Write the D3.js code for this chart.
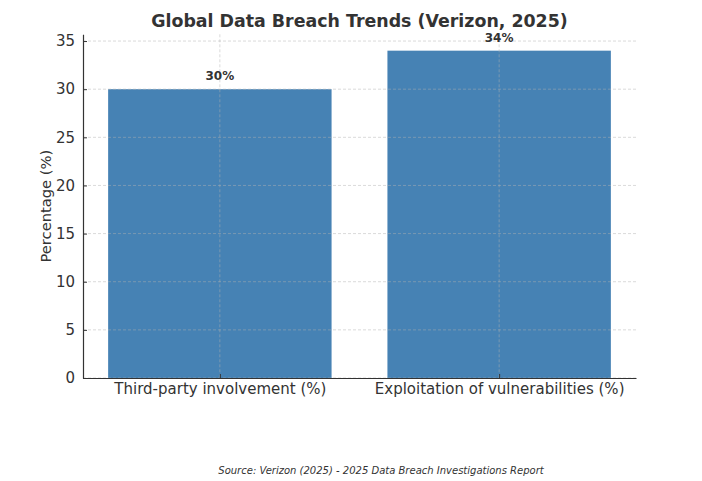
<!DOCTYPE html>
<html>
<head>
<meta charset="utf-8">
<script src="https://cdn.jsdelivr.net/npm/d3@7"></script>
<style>
  body { margin: 0; background: #fff; }
  text { font-family: 'DejaVu Sans', sans-serif; fill: #333; }
</style>
</head>
<body>
<div id="chart"></div>
<script>
let categories = ['Third-party involvement (%)', 'Exploitation of vulnerabilities (%)']
let values = [30, 34]
let yTicks = [0, 5, 10, 15, 20, 25, 30, 35]

let margin = { top: 34.3, left: 83, right: 66, bottom: 103 }
let width = 702 - margin.left - margin.right
let height = 481 - margin.top - margin.bottom

let svg = d3.select('#chart')
  .append('svg')
  .attr('width', 702)
  .attr('height', 481)

let holder = svg.append('g')
  .attr('transform', `translate(${margin.left},${margin.top})`)

// matplotlib-style bar positions: x = index, width 0.8, 5% margins
let xScale = d3.scaleLinear().domain([-0.49, 1.49]).range([0, width])
let yScale = d3.scaleLinear().domain([0, 35.7]).range([height, 0])

holder.selectAll('.bar')
  .data(values)
  .enter()
  .append('rect')
  .attr('class', 'bar')
  .attr('x', (d, i) => xScale(i - 0.4))
  .attr('width', xScale(0.8) - xScale(0))
  .attr('y', d => yScale(d))
  .attr('height', d => height - yScale(d))
  .attr('fill', '#4682b4')

// grid on top of bars
holder.selectAll('.grid-y')
  .data(yTicks)
  .enter()
  .append('line')
  .attr('x1', 0)
  .attr('x2', width)
  .attr('y1', d => yScale(d))
  .attr('y2', d => yScale(d))
  .attr('stroke', '#b0b0b0')
  .attr('stroke-opacity', 0.6)
  .attr('stroke-dasharray', '3,2')
  .attr('stroke-width', 0.8)

holder.selectAll('.grid-x')
  .data(categories)
  .enter()
  .append('line')
  .attr('x1', (d, i) => xScale(i))
  .attr('x2', (d, i) => xScale(i))
  .attr('y1', 0)
  .attr('y2', height)
  .attr('stroke', '#b0b0b0')
  .attr('stroke-opacity', 0.6)
  .attr('stroke-dasharray', '3,2')
  .attr('stroke-width', 0.8)

// y axis
let yAxis = holder.append('g')
  .call(d3.axisLeft(yScale).tickValues(yTicks).tickSizeInner(-4).tickSizeOuter(0).tickPadding(8))
yAxis.select('.domain').attr('stroke', '#333').attr('stroke-width', 1.2)
yAxis.selectAll('.tick line').attr('stroke', '#333')
yAxis.selectAll('.tick text').attr('font-size', 15).attr('fill', '#333')

// x axis
let xAxis = holder.append('g')
  .attr('transform', `translate(0,${height})`)
  .call(d3.axisBottom(xScale).tickValues([0, 1]).tickFormat(i => categories[i]).tickSizeInner(-4).tickSizeOuter(0).tickPadding(5))
xAxis.select('.domain').attr('stroke', '#333').attr('stroke-width', 1.2)
xAxis.selectAll('.tick line').attr('stroke', '#333')
xAxis.selectAll('.tick text').attr('font-size', 15).attr('fill', '#333')

// value labels
holder.selectAll('.value-label')
  .data(values)
  .enter()
  .append('text')
  .attr('x', (d, i) => xScale(i))
  .attr('y', d => yScale(d) - 9)
  .attr('text-anchor', 'middle')
  .attr('font-size', 12)
  .attr('font-weight', 'bold')
  .text(d => d + '%')

// y label
holder.append('text')
  .attr('transform', `translate(-32,${height / 2}) rotate(-90)`)
  .attr('text-anchor', 'middle')
  .attr('font-size', 14.7)
  .text('Percentage (%)')

// title
svg.append('text')
  .attr('x', margin.left + width / 2)
  .attr('y', 27)
  .attr('text-anchor', 'middle')
  .attr('font-size', 17.4)
  .attr('font-weight', 'bold')
  .text('Global Data Breach Trends (Verizon, 2025)')

// source
svg.append('text')
  .attr('x', 381)
  .attr('y', 474)
  .attr('text-anchor', 'middle')
  .attr('font-size', 10)
  .attr('font-style', 'italic')
  .text('Source: Verizon (2025) - 2025 Data Breach Investigations Report')
</script>
</body>
</html>
